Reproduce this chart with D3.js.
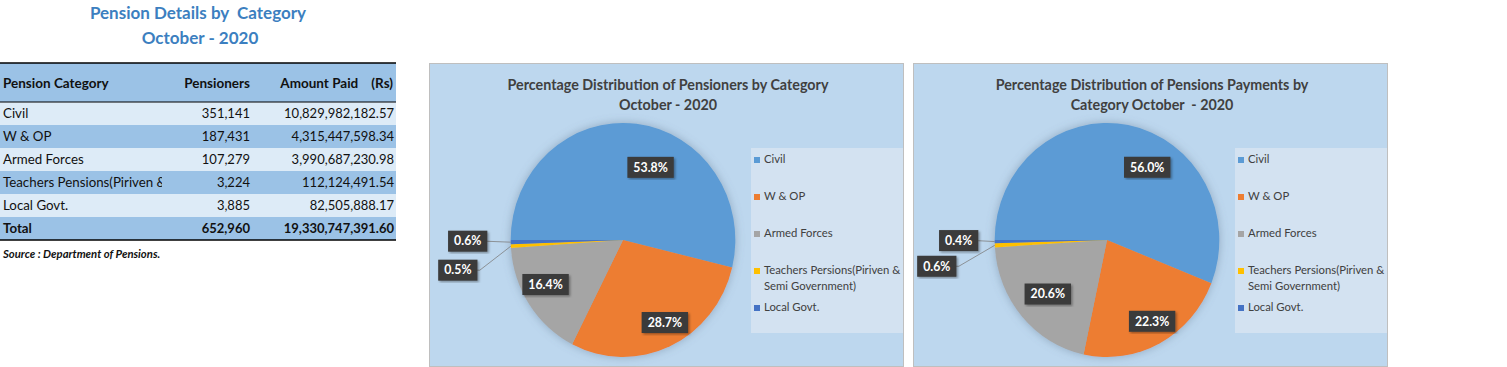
<!DOCTYPE html>
<html>
<head>
<meta charset="utf-8">
<script src="https://cdn.jsdelivr.net/npm/d3@7"></script>
<style>
  body { margin: 0; background: #fff; }
  svg { display: block; font-family: Lato, "Open Sans", sans-serif; }
</style>
</head>
<body>
<svg id="chart" width="1507" height="367"></svg>
<script>
const categories = ["Civil", "W & OP", "Armed Forces", "Teachers Pensions(Piriven & Semi Government)", "Local Govt."];
const tableLabels = ["Civil", "W & OP", "Armed Forces", "Teachers Pensions(Piriven &", "Local Govt."];
const pensioners = [351141, 187431, 107279, 3224, 3885];
const amountPaid = [10829982182.57, 4315447598.34, 3990687230.98, 112124491.54, 82505888.17];
const totalPensioners = 652960;
const totalAmount = 19330747391.60;
const colors = ["#5b9bd5", "#ed7d31", "#a5a5a5", "#ffc000", "#4472c4"];
const legendLines = [["Civil"], ["W & OP"], ["Armed Forces"], ["Teachers Persions(Piriven &", "Semi Government)"], ["Local Govt."]];

const svg = d3.select("#chart");

// drop shadow for the pies
const defs = svg.append("defs");
const f = defs.append("filter").attr("id", "glow").attr("x", "-20%").attr("y", "-20%").attr("width", "140%").attr("height", "140%");
f.append("feGaussianBlur").attr("in", "SourceAlpha").attr("stdDeviation", 5).attr("result", "b");
f.append("feFlood").attr("flood-color", "#5a6f86").attr("flood-opacity", 0.45);
f.append("feComposite").attr("in2", "b").attr("operator", "in").attr("result", "s");
const fm = f.append("feMerge");
fm.append("feMergeNode").attr("in", "s");
fm.append("feMergeNode").attr("in", "SourceGraphic");

const lf = defs.append("filter").attr("id", "lblShadow");
lf.append("feDropShadow").attr("dx", 1.5).attr("dy", 1.5).attr("stdDeviation", 1.2).attr("flood-color", "#000").attr("flood-opacity", 0.35);

// ---------- left table ----------
const fmtInt = d3.format(",");
const fmtAmt = d3.format(",.2f");

const title = svg.append("g").attr("fill", "#3c7fc0").attr("font-weight", "bold").attr("font-size", 17).attr("text-anchor", "middle");
title.append("text").attr("x", 198).attr("y", 19).attr("xml:space", "preserve").text("Pension Details by  Category");
title.append("text").attr("x", 200).attr("y", 44).text("October - 2020");

const tbl = { x: 0, w: 396, top: 63, headH: 39, rowH: 23 };
const rows = categories.map((c, i) => ({ label: tableLabels[i], p: pensioners[i], a: amountPaid[i], bold: false }));
rows.push({ label: "Total", p: totalPensioners, a: totalAmount, bold: true });

svg.append("rect").attr("x", 0).attr("y", tbl.top).attr("width", tbl.w).attr("height", tbl.headH).attr("fill", "#9bc2e6");
const head = svg.append("g").attr("font-weight", "bold").attr("font-size", 13.5).attr("fill", "#111");
head.append("text").attr("x", 3).attr("y", tbl.top + 25).text("Pension Category");
head.append("text").attr("x", 250).attr("y", tbl.top + 25).attr("text-anchor", "end").text("Pensioners");
head.append("text").attr("x", 393).attr("y", tbl.top + 25).attr("text-anchor", "end").attr("xml:space", "preserve").text("Amount Paid    (Rs)");

const rowG = svg.append("g").selectAll("g").data(rows).join("g")
  .attr("transform", (d, i) => `translate(0,${tbl.top + tbl.headH + i * tbl.rowH})`);
rowG.append("rect").attr("width", tbl.w).attr("height", tbl.rowH)
  .attr("fill", (d, i) => i % 2 === 0 ? "#ddebf7" : "#9bc2e6");
rowG.append("text").attr("x", 3).attr("y", 16).attr("font-size", 13.3).attr("fill", "#111")
  .attr("font-weight", d => d.bold ? "bold" : null).text(d => d.label);
// clip overflow of the long category name
rowG.append("rect").attr("x", 162).attr("width", 30).attr("height", tbl.rowH)
  .attr("fill", (d, i) => i % 2 === 0 ? "#ddebf7" : "#9bc2e6");
rowG.append("text").attr("x", 250).attr("y", 16).attr("font-size", 13).attr("text-anchor", "end").attr("fill", "#111")
  .attr("font-weight", d => d.bold ? "bold" : null).text(d => fmtInt(d.p));
rowG.append("text").attr("x", 394).attr("y", 16).attr("font-size", 13).attr("text-anchor", "end").attr("fill", "#111")
  .attr("font-weight", d => d.bold ? "bold" : null).text(d => fmtAmt(d.a));

const lines = [tbl.top, tbl.top + tbl.headH, tbl.top + tbl.headH + rows.length * tbl.rowH];
svg.append("g").selectAll("line").data(lines).join("line")
  .attr("x1", 0).attr("x2", tbl.w).attr("y1", d => d).attr("y2", d => d)
  .attr("stroke", "#000").attr("stroke-width", (d, i) => i === 1 ? 1 : 1.5);
svg.append("text").attr("x", 3).attr("y", lines[2] + 18).attr("font-size", 11.3).attr("font-weight", "bold")
  .attr("font-style", "italic").attr("fill", "#111").text("Source : Department of Pensions.");

// ---------- pie charts ----------
function pieChart({ x, w, titleLines, values, nudges, smallOffsets }) {
  const top = 63, h = 303;
  const g = svg.append("g").attr("transform", `translate(${x},${top})`);
  g.append("rect").attr("x", 0.5).attr("y", 0.5).attr("width", w).attr("height", h)
    .attr("fill", "#bdd7ee").attr("stroke", "#bfbfbf");

  g.append("g").attr("font-size", 14.3).attr("font-weight", "bold").attr("fill", "#404040").attr("text-anchor", "middle")
    .selectAll("text").data(titleLines).join("text")
    .attr("x", w / 2 + 2).attr("y", (d, i) => 27 + i * 20).attr("xml:space", "preserve").text(d => d);

  // legend
  const lg = g.append("g").attr("transform", `translate(322,85)`);
  lg.append("rect").attr("width", w - 322).attr("height", 185).attr("fill", "#d3e2f1");
  const items = lg.selectAll("g").data(legendLines).join("g")
    .attr("transform", (d, i) => `translate(3,${9 + i * 37})`);
  items.append("rect").attr("y", 0).attr("width", 6).attr("height", 6).attr("fill", (d, i) => colors[i]);
  items.selectAll("text").data(d => d).join("text")
    .attr("x", 10).attr("y", (d, i) => 6 + i * 16).attr("font-size", 11.3).attr("fill", "#404040").text(d => d);

  // pie
  const cx = 194, cy = 177, r = 117, sx = 0.96;
  const total = d3.sum(values);
  const arcs = d3.pie().sort(null).startAngle(-Math.PI / 2).endAngle(1.5 * Math.PI)(values);
  const arc = d3.arc().innerRadius(0).outerRadius(r);
  const pg = g.append("g").attr("transform", `translate(${cx},${cy}) scale(${sx},1)`);
  pg.append("g").attr("filter", "url(#glow)").selectAll("path").data(arcs).join("path")
    .attr("d", arc).attr("fill", (d, i) => colors[i]);

  const fmtPct = v => (v / total * 100).toFixed(1) + "%";
  const labelArc = d3.arc().innerRadius(r * 0.72).outerRadius(r * 0.72);
  const lbls = g.append("g");
  arcs.forEach((d, i) => {
    const small = d.value / total < 0.01;
    let lx, ly;
    const mid = (d.startAngle + d.endAngle) / 2;
    const ex = cx + Math.sin(mid) * r * sx, ey = cy - Math.cos(mid) * r;
    if (small) {
      const o = smallOffsets[i];
      lx = ex + o[0]; ly = ey + o[1];
      const bx = lx + 17;
      const path = o[1] > 5 ? `M${bx},${ly} L${bx + 5},${ly} L${ex},${ey}` : `M${bx},${ly} L${ex},${ey}`;
      lbls.append("path").attr("d", path).attr("fill", "none").attr("stroke", "#7f7f7f").attr("stroke-width", 0.8);
    } else {
      const c = labelArc.centroid(d);
      lx = cx + c[0] * sx + nudges[i][0]; ly = cy + c[1] + nudges[i][1];
    }
    const lab = lbls.append("g").attr("transform", `translate(${lx},${ly})`);
    const rect = lab.append("rect").attr("fill", "#3a3a3a").attr("filter", "url(#lblShadow)");
    const t = lab.append("text").attr("text-anchor", "middle").attr("dy", "0.35em").attr("font-size", 12.3)
      .attr("font-weight", "bold").attr("fill", "#fff").text(fmtPct(d.value));
    const bw = t.node().getComputedTextLength() + 12;
    rect.attr("x", -bw / 2).attr("y", -10.5).attr("width", bw).attr("height", 21);
  });
}

pieChart({
  x: 429, w: 474,
  titleLines: ["Percentage Distribution of Pensioners by Category", "October - 2020"],
  values: pensioners,
  nudges: [[18, 11], [8, 6], [-10, -2]],
  smallOffsets: [null, null, null, [-53, 24], [-43, -1]],
});
pieChart({
  x: 913, w: 474,
  titleLines: ["Percentage Distribution of Pensions Payments by", "Category October  - 2020"],
  values: amountPaid,
  nudges: [[25, 10], [7, 7], [2, -1]],
  smallOffsets: [null, null, null, [-58, 21], [-36, -1]],
});
</script>
</body>
</html>
